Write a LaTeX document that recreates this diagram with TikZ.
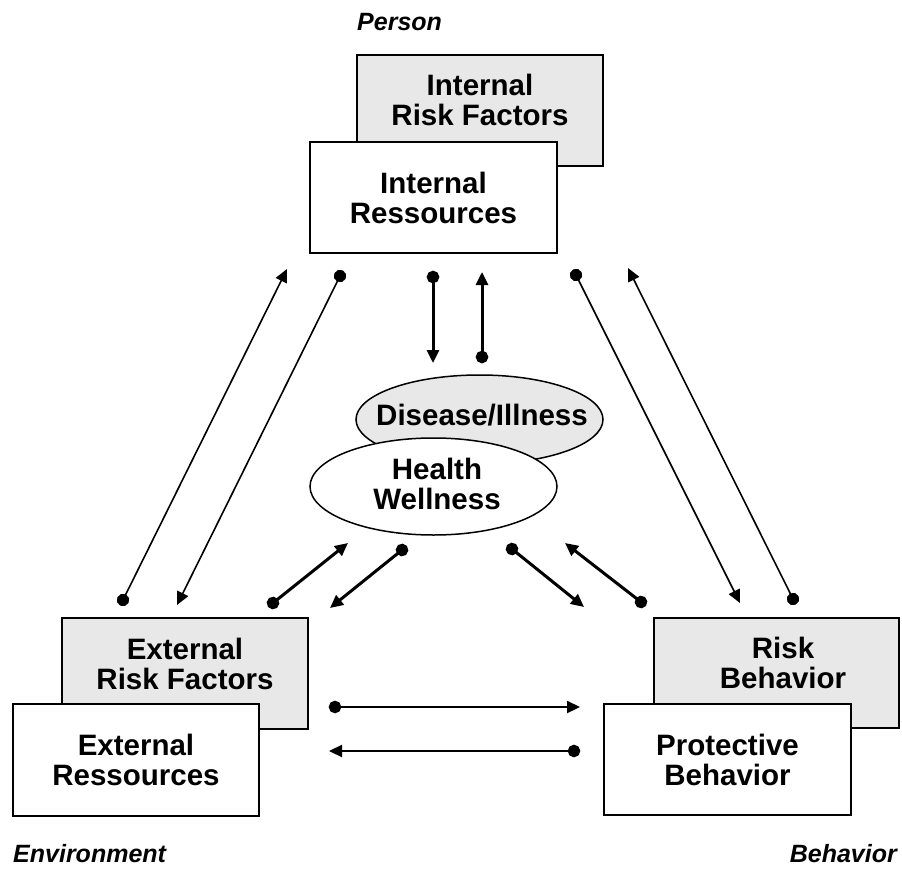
\documentclass[tikz,border=0pt]{standalone}
\usepackage{fontspec}
\setmainfont{Liberation Sans}
\usetikzlibrary{arrows.meta,shapes.geometric}
\definecolor{boxgray}{RGB}{232,232,232}
\newcommand\dgboxfont{\fontsize{29.5}{30}\selectfont\bfseries}
\newcommand\dglblfont{\fontsize{25}{27}\selectfont\bfseries\itshape}
\begin{document}
\begin{tikzpicture}[x=1pt,y=-1pt,
  graybox/.style={draw, line width=2.3pt, fill=boxgray, minimum width=246pt, minimum height=111pt, inner sep=0pt},
  whitebox/.style={draw, line width=2.3pt, fill=white, minimum width=246pt, minimum height=111pt, inner sep=0pt, align=center, font=\dgboxfont},
  boxtext/.style={inner sep=0pt, align=center, font=\dgboxfont},
  grayell/.style={ellipse, draw, line width=1.5pt, fill=boxgray, minimum width=247pt, minimum height=89pt, inner sep=0pt},
  whiteell/.style={ellipse, draw, line width=1.5pt, fill=white, minimum width=247pt, minimum height=97pt, inner sep=0pt, align=center, font=\dgboxfont},
  lbl/.style={inner sep=0pt, font=\dglblfont},
  dotarrow/.style={{Circle[length=12.5pt]}-{Triangle[length=13pt,width=12pt]}, shorten <=-6.25pt},
  thinarrow/.style={dotarrow, line width=1.6pt},
  midarrow/.style={dotarrow, line width=2.2pt},
  thickarrow/.style={dotarrow, line width=3pt},
]
\fill[white] (0,0) rectangle (902,869);
\useasboundingbox (0,0) rectangle (902,869);

% labels
\node[lbl, anchor=base west] (person) at (357,31) {Person};
\node[lbl, anchor=base west] (env) at (13,862) {Environment};
\node[lbl, anchor=base east] (behlbl) at (897,862) {Behavior};

% Person boxes
\node[graybox] (irf) at (480,110.5) {};
\node[boxtext] (irft) at (480,100) {Internal\\Risk Factors};
\node[whitebox, minimum width=247pt] (ir) at (433.5,197.5) {Internal\\Ressources};

% Environment boxes
\node[graybox] (erf) at (185,673.5) {};
\node[boxtext] (erft) at (185,664) {External\\Risk Factors};
\node[whitebox, minimum height=112pt] (er) at (136,760) {External\\Ressources};

% Behavior boxes
\node[graybox, minimum width=245pt, minimum height=110pt] (rb) at (776.5,673) {};
\node[boxtext] (rbt) at (783,663) {Risk\\Behavior};
\node[whitebox, minimum width=247pt] (pb) at (727.5,759.5) {Protective\\Behavior};

% ellipses
\node[grayell] (dis) at (479.5,419.5) {};
\node[boxtext] (dist) at (482,415) {Disease/Illness};
\node[whiteell] (hw) at (433.5,486.5) {};
\node[boxtext] (hwt) at (437,484) {Health\\Wellness};

% connector end points
\coordinate (a1s) at (123,600); \coordinate (a1e) at (287,269);
\coordinate (a2s) at (340,276); \coordinate (a2e) at (177,605);
\coordinate (a3s) at (433,277); \coordinate (a3e) at (433,363);
\coordinate (a4s) at (482,357); \coordinate (a4e) at (482,272);
\coordinate (a5s) at (576,275); \coordinate (a5e) at (740,603);
\coordinate (a6s) at (793,599); \coordinate (a6e) at (628,268);
\coordinate (a7s) at (273,603); \coordinate (a7e) at (348,543);
\coordinate (a8s) at (402,550); \coordinate (a8e) at (330,608);
\coordinate (a9s) at (512,549); \coordinate (a9e) at (584,607);
\coordinate (a10s) at (641,602); \coordinate (a10e) at (565,543);
\coordinate (a11s) at (335,707); \coordinate (a11e) at (580,707);
\coordinate (a12s) at (574,751); \coordinate (a12e) at (329,751);

\draw[thinarrow] (a1s) -- (a1e);
\draw[thinarrow] (a2s) -- (a2e);
\draw[thickarrow] (a3s) -- (a3e);
\draw[thickarrow] (a4s) -- (a4e);
\draw[thinarrow] (a5s) -- (a5e);
\draw[thinarrow] (a6s) -- (a6e);
\draw[thickarrow] (a7s) -- (a7e);
\draw[thickarrow] (a8s) -- (a8e);
\draw[thickarrow] (a9s) -- (a9e);
\draw[thickarrow] (a10s) -- (a10e);
\draw[midarrow] (a11s) -- (a11e);
\draw[midarrow] (a12s) -- (a12e);
\end{tikzpicture}
\end{document}
